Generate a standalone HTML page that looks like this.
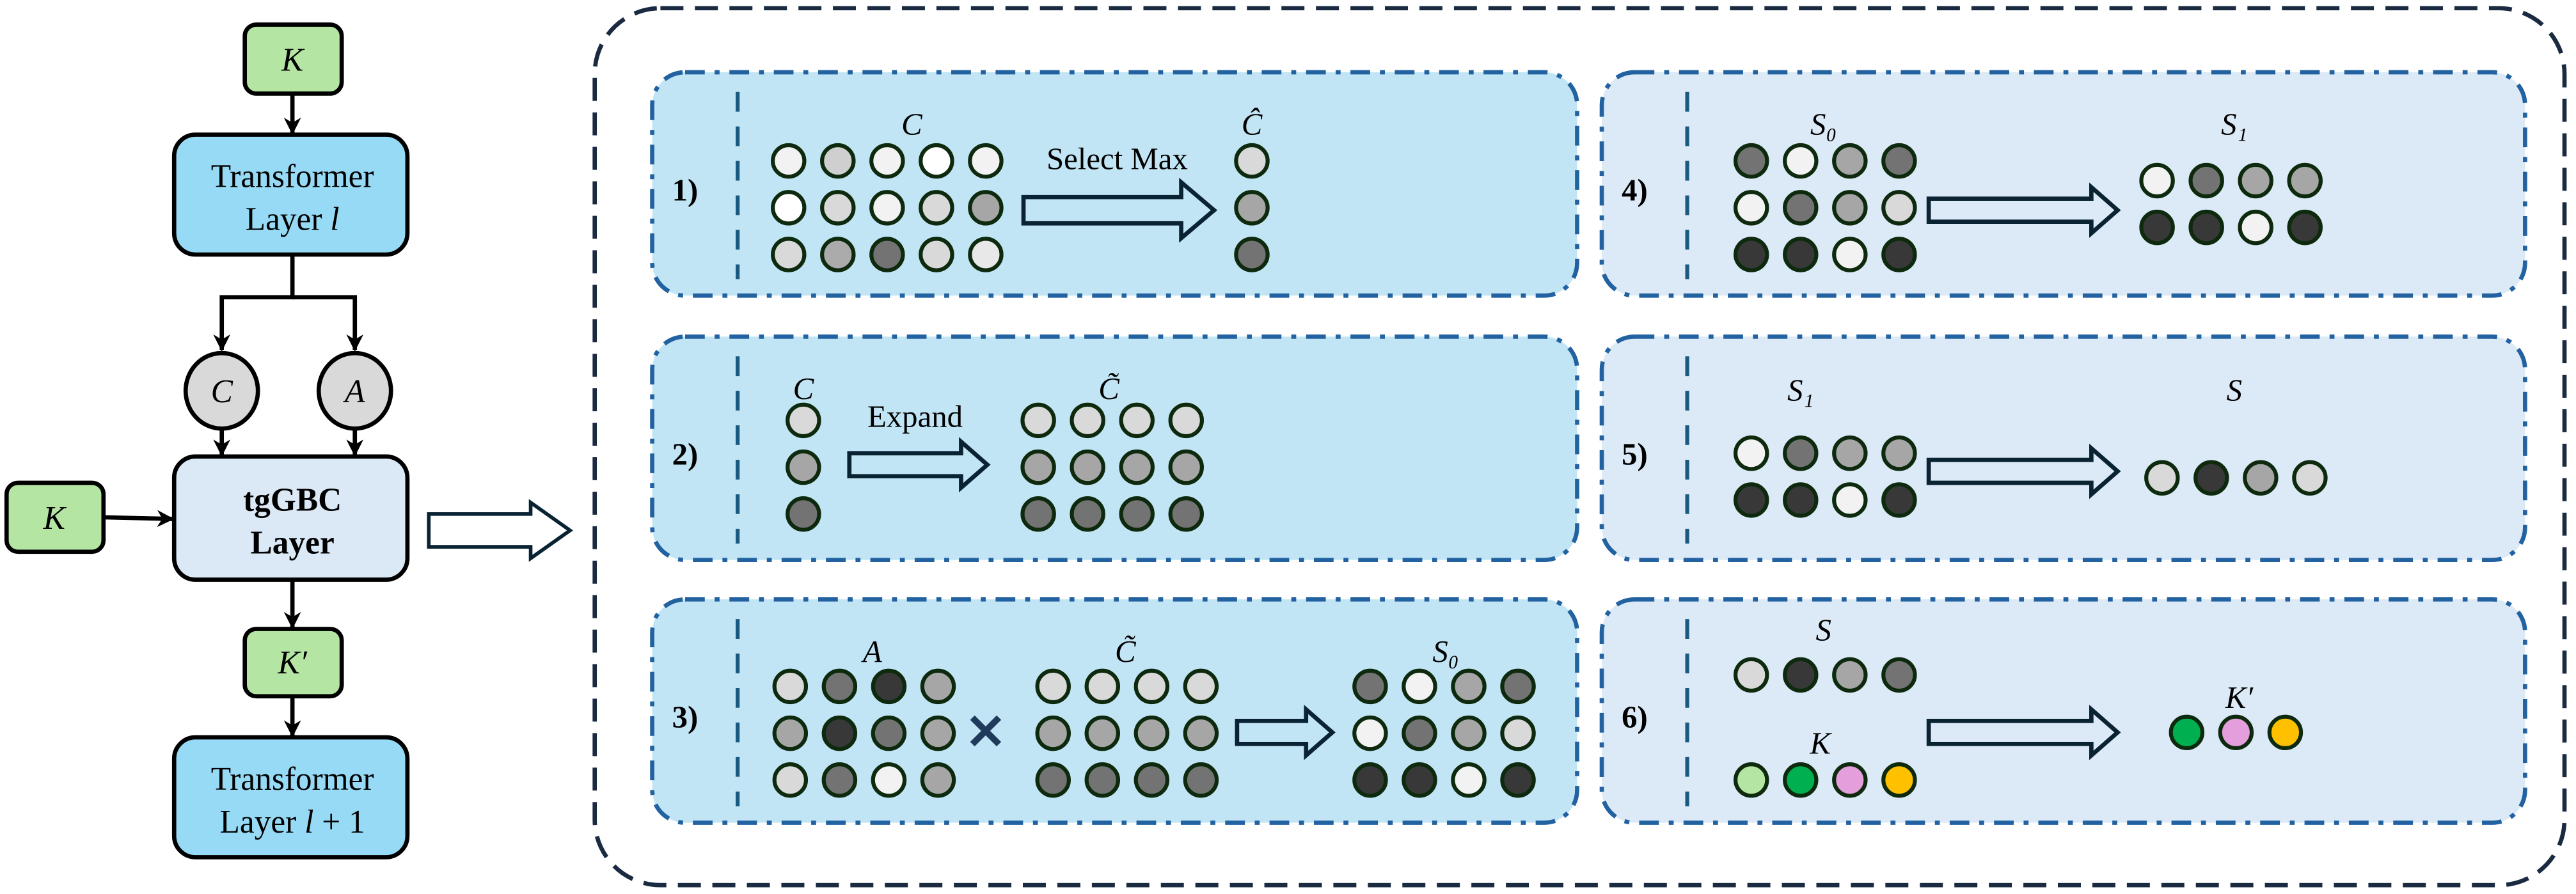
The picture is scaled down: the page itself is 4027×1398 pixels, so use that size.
<!DOCTYPE html>
<html><head><meta charset="utf-8"><style>
html,body{margin:0;padding:0;background:#fff;width:4027px;height:1398px;overflow:hidden}
svg{display:block;font-family:"Liberation Serif","DejaVu Serif",serif}
svg text{font-family:"Liberation Serif","DejaVu Serif",serif}
.mi{font-style:italic}
</style></head><body>
<svg id="fig" width="4027" height="1398" viewBox="0 0 1568 544.4" preserveAspectRatio="none" xmlns="http://www.w3.org/2000/svg" font-family="Liberation Serif, serif">
<defs>
<marker id="ah" viewBox="0 0 10 10" refX="9" refY="5" markerWidth="4" markerHeight="4" orient="auto"><path d="M0,0 L10,5 L0,10 L3,5 Z" fill="#000"/></marker>
</defs>
<g id="left" stroke="#000" stroke-width="2.6" fill="none">
  <line x1="178" y1="57" x2="178" y2="81" marker-end="url(#ah)"/>
  <polyline points="178,155 178,181 135,181 135,213" marker-end="url(#ah)"/>
  <polyline points="178,181 216,181 216,213" marker-end="url(#ah)"/>
  <line x1="135" y1="262" x2="135" y2="277" marker-end="url(#ah)"/>
  <line x1="216" y1="262" x2="216" y2="277" marker-end="url(#ah)"/>
  <line x1="63" y1="315" x2="105" y2="316" marker-end="url(#ah)"/>
  <line x1="178" y1="353" x2="178" y2="382" marker-end="url(#ah)"/>
  <line x1="178" y1="424" x2="178" y2="448" marker-end="url(#ah)"/>
  <rect x="149" y="15" width="59" height="42" rx="7" fill="#b5e5a2"/>
  <rect x="106" y="82" width="142" height="73" rx="13" fill="#97daf6"/>
  <ellipse cx="135" cy="238" rx="22" ry="23" fill="#d9d9d9"/>
  <ellipse cx="216" cy="238" rx="22" ry="23" fill="#d9d9d9"/>
  <rect x="4" y="294" width="59" height="42" rx="7" fill="#b5e5a2"/>
  <rect x="106" y="278" width="142" height="75" rx="13" fill="#dbe8f5"/>
  <rect x="149" y="383" width="59" height="41" rx="7" fill="#b5e5a2"/>
  <rect x="106" y="449" width="142" height="73" rx="13" fill="#97daf6"/>
</g>
<g fill="#000" font-size="20" text-anchor="middle">
  <text class="mi" x="178" y="43">K</text>
  <text x="178" y="114">Transformer</text>
  <text x="178" y="140">Layer <tspan class="mi">l</tspan></text>
  <text class="mi" x="135" y="245">C</text>
  <text class="mi" x="216" y="245">A</text>
  <text class="mi" x="33" y="322">K</text>
  <text x="178" y="311" font-weight="bold">tgGBC</text>
  <text x="178" y="337" font-weight="bold">Layer</text>
  <text class="mi" x="178" y="410">K′</text>
  <text x="178" y="481">Transformer</text>
  <text x="178" y="507">Layer <tspan class="mi">l</tspan> + 1</text>
</g>
<rect x="362" y="5" width="1199" height="534" rx="40" fill="none" stroke="#1a2a40" stroke-width="2.6" stroke-dasharray="14 7"/>
<g id="panels"></g>
<g id="arrows"></g>
<g id="dots"></g>
<g id="labels" fill="#000" text-anchor="middle" font-size="18"></g>
</svg>
<script>
// circle shade data (fill colors) per group
const W="#ffffff",E="#f2f2f2",L="#d9d9d9",M="#a6a6a6",D="#737373",K="#383838";
const cGrid=[[E,"#cfcfcf",E,W,E],[W,L,E,L,M],[L,"#ababab",D,L,"#e8e8e8"]];
const cHat=[[L],[M],[D]];
const cCol=[[L],[M],[D]];
const cTilde=[[L,L,L,L],[M,M,M,M],[D,D,D,D]];
const aGrid=[[L,D,K,M],[M,K,D,M],[L,D,E,M]];
const s0Grid=[[D,E,M,D],[E,D,M,L],[K,K,E,K]];
const s1Grid=[[E,D,M,M],[K,K,E,K]];
const sRow=[[L,K,M,L]];
const sRow6=[[L,K,M,D]];
const kRow=[["#b5e5a2","#00b050","#e39edb","#ffc000"]];
const kPrime=[["#00b050","#e39edb","#ffc000"]];

const NS="http://www.w3.org/2000/svg";
function mk(tag,attrs,parent){const e=document.createElementNS(NS,tag);for(const k in attrs)e.setAttribute(k,attrs[k]);parent.appendChild(e);return e;}
const panelsG=document.getElementById('panels'),arrowsG=document.getElementById('arrows'),dotsG=document.getElementById('dots'),labelsG=document.getElementById('labels');

const panels=[
 {n:"1)",x:397,y:44,fill:"#c2e5f5"},{n:"2)",x:397,y:205,fill:"#c2e5f5"},{n:"3)",x:397,y:365,fill:"#c2e5f5"},
 {n:"4)",x:975,y:44,fill:"#dce9f6"},{n:"5)",x:975,y:205,fill:"#dce9f6"},{n:"6)",x:975,y:365,fill:"#dce9f6"}];
panels.forEach((p,i)=>{
 const w=p.x<900?563:562;
 const r=mk('rect',{x:p.x,y:p.y,width:w,height:136,rx:20,fill:p.fill,stroke:"#2262a0","stroke-width":2.6,"stroke-dasharray":"12 6 3 6"},panelsG);
 
 
 const l=mk('line',{x1:p.x+52,y1:p.y+12,x2:p.x+52,y2:p.y+126,stroke:"#1a5a80","stroke-width":2.4,"stroke-dasharray":"12 9"},panelsG);
 
 
 const t=mk('text',{x:p.x+20,y:p.y+78,"font-size":19,"font-weight":"bold"},labelsG);
 t.textContent=p.n;
 
 
});

function grid(data,x0,y0,name){
 data.forEach((row,ri)=>row.forEach((c,ci)=>{
  const e=mk('circle',{cx:x0+ci*30,cy:y0+ri*28.5,r:9.6,fill:c,stroke:"#0e2a0e","stroke-width":2.4},dotsG);
  
  
 }));
}
grid(cGrid,480,98,'c-matrix');
grid(cHat,762,98,'c-hat');
grid(cCol,489,256,'c-column');
grid(cTilde,632,256,'c-tilde');
grid(aGrid,481,418,'a-matrix');
grid(cTilde,641,418,'c-tilde-3');
grid(s0Grid,834,418,'s0-matrix');
grid(s0Grid,1066,98,'s0-matrix-4');
grid(s1Grid,1313,110,'s1-matrix');
grid(s1Grid,1066,276,'s1-matrix-5');
grid(sRow,1316,291,'s-row');
grid(sRow6,1066,411,'s-row-6');
grid(kRow,1066,475,'k-row');
grid(kPrime,1331,446,'k-prime-row');

function arrow(x1,x2,yc,sh,hh,hl,name,sw){
 const d=`M${x1},${yc-sh} L${x2-hl},${yc-sh} L${x2-hl},${yc-hh} L${x2},${yc} L${x2-hl},${yc+hh} L${x2-hl},${yc+sh} L${x1},${yc+sh} Z`;
 const e=mk('path',{d:d,fill:"none",stroke:"#0a2333","stroke-width":sw||2.6,"stroke-linejoin":"miter"},arrowsG);
 
 
}
arrow(261,347,323,10,17,24,'main-hollow-arrow',2.2);
arrow(623,739,128,8,17,20,'select-max-arrow');
arrow(517,601,283,7,14,16,'expand-arrow');
arrow(753,811,446,7,14,16,'s0-arrow');
arrow(1174,1289,128,7,14,16,'step4-arrow');
arrow(1174,1289,287,7,14,16,'step5-arrow');
arrow(1174,1289,446,7,14,16,'step6-arrow');

const xmark=mk('text',{x:600,y:456,"font-size":30,fill:"#1f3a5a","font-weight":"bold"},labelsG);
xmark.textContent="✕";



const labs=[
 ["C",555,82,'c-label',1],["Ĉ",762,82,'c-hat-label',1],["Select Max",680,103,'select-max-text',0],
 ["C",489,243,'c-label-2',1],["Expand",557,260,'expand-text',0],["C̃",675,243,'c-tilde-label',1],
 ["A",531,403,'a-label',1],["C̃",685,403,'c-tilde-label-3',1],["S₀",880,403,'s0-label',1],
 ["S₀",1110,82,'s0-label-4',1],["S₁",1360,82,'s1-label',1],
 ["S₁",1096,244,'s1-label-5',1],["S",1360,244,'s-label',1],
 ["S",1110,390,'s-label-6',1],["K",1108,459,'k-label-6',1],["K′",1363,431,'k-prime-label',1]];
labs.forEach(a=>{
 const t=mk('text',{x:a[1],y:a[2],"font-size":19},labelsG);
 if(a[4])t.setAttribute('class','mi');
 t.textContent=a[0];
 
 
});
</script>
</body></html>
